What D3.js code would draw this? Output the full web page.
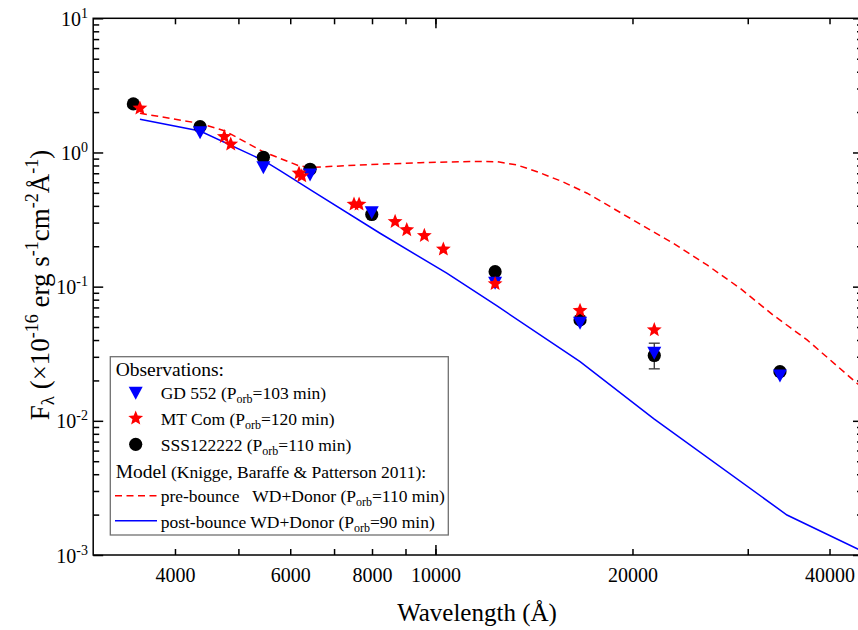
<!DOCTYPE html>
<html>
<head>
<meta charset="utf-8">
<script src="https://cdn.jsdelivr.net/npm/d3@7"></script>
<style>
  body { margin: 0; background: #fff; }
  svg { display: block; font-family: "Liberation Serif", "Times New Roman", serif; }
</style>
</head>
<body>
<svg id="chart" width="858" height="630"></svg>
<script>
// ---- Photometry (wavelength in Å, flux in 1e-16 erg s^-1 cm^-2 Å^-1) ----
const gd552Wave = [4369, 5459, 6433, 7993, 12335, 16631, 21594, 33600];
const gd552Flux = [1.40, 0.770, 0.680, 0.355, 0.106, 0.0534, 0.0319, 0.0216];

const mtcomWave = [3536, 4758, 4867, 6188, 6248, 7509, 7644, 8677, 9040, 9617, 10282, 12335, 16631, 21594];
const mtcomFlux = [2.135, 1.311, 1.151, 0.700, 0.668, 0.411, 0.411, 0.305, 0.265, 0.240, 0.190, 0.105, 0.0663, 0.0476];

const sssWave = [3455, 4369, 5459, 6433, 7993, 12335, 16631, 21594, 33600];
const sssFlux = [2.30, 1.557, 0.921, 0.750, 0.345, 0.1294, 0.0565, 0.0307, 0.02326];
const sssErrLo = [null, null, null, null, null, null, null, 0.0244, null];
const sssErrHi = [null, null, null, null, null, null, null, 0.0379, null];

// ---- Model spectra (Knigge, Baraffe & Patterson 2011) ----
const preWave = [3536, 4369, 4770, 5453, 6167, 6433, 7669, 9472, 11291, 12420, 13323, 14296, 15672, 17051, 19834, 23074, 25995, 29203, 32790, 36967, 43455, 45000];
const preFlux = [1.960, 1.645, 1.446, 1.014, 0.800, 0.773, 0.807, 0.839, 0.857, 0.854, 0.807, 0.719, 0.603, 0.497, 0.3234, 0.2106, 0.1451, 0.0973, 0.0615, 0.0401, 0.0202, 0.01743];

const postWave = [3536, 4369, 5459, 5789, 6508, 8229, 10406, 12420, 16631, 21570, 34440, 45000];
const postFlux = [1.768, 1.446, 0.872, 0.732, 0.510, 0.250, 0.1259, 0.0718, 0.0276, 0.01033, 0.001986, 0.00106];

// ---- Axis ticks ----
const xTicks = [4000, 5000, 6000, 7000, 8000, 9000, 10000, 20000, 30000, 40000];
const xTickLabels = [4000, 6000, 8000, 10000, 20000, 40000];
const xDecades = [10000];
const yDecades = [1e-3, 1e-2, 1e-1, 1, 10];
const yExponents = ["-3", "-2", "-1", "0", "1"];

const box = { left: 93.2, top: 18.3, right: 863, bottom: 555 };

const x = d3.scaleLog().domain([3000, 45000]).range([box.left, box.right]);
const y = d3.scaleLog().domain([1e-3, 10]).range([box.bottom, box.top]);

const svg = d3.select("#chart");

svg.append("defs").append("clipPath").attr("id", "plotArea")
  .append("rect")
  .attr("x", box.left).attr("y", box.top)
  .attr("width", box.right - box.left).attr("height", box.bottom - box.top);

// ---- Axes ----
const yMinor = [];
yDecades.slice(0, -1).forEach(d => { for (let k = 2; k <= 9; k++) yMinor.push(d * k); });

function styleAxis(g) {
  g.select(".domain").remove();
  g.selectAll(".tick line").attr("stroke", "#000").attr("stroke-width", 1.5);
}

// bottom
svg.append("g").attr("transform", `translate(0,${box.bottom})`)
  .call(d3.axisBottom(x).tickValues(xTicks).tickSizeInner(-6).tickSizeOuter(0).tickPadding(13)
    .tickFormat(d => xTickLabels.includes(d) ? String(d) : ""))
  .call(styleAxis)
  .call(g => g.selectAll("text").attr("font-size", 20).attr("fill", "#000")
    .attr("font-family", "Liberation Serif, Times New Roman, serif"));
svg.append("g").attr("transform", `translate(0,${box.bottom})`)
  .call(d3.axisBottom(x).tickValues(xDecades).tickSizeInner(-10).tickSizeOuter(0).tickFormat(""))
  .call(styleAxis);
// top
svg.append("g").attr("transform", `translate(0,${box.top})`)
  .call(d3.axisTop(x).tickValues(xTicks).tickSizeInner(-6).tickSizeOuter(0).tickFormat(""))
  .call(styleAxis);
svg.append("g").attr("transform", `translate(0,${box.top})`)
  .call(d3.axisTop(x).tickValues(xDecades).tickSizeInner(-10).tickSizeOuter(0).tickFormat(""))
  .call(styleAxis);
// left
svg.append("g").attr("transform", `translate(${box.left},0)`)
  .call(d3.axisLeft(y).tickValues(yMinor).tickSizeInner(-6).tickSizeOuter(0).tickFormat(""))
  .call(styleAxis);
svg.append("g").attr("transform", `translate(${box.left},0)`)
  .call(d3.axisLeft(y).tickValues(yDecades).tickSizeInner(-10).tickSizeOuter(0).tickFormat(""))
  .call(styleAxis);
// right
svg.append("g").attr("transform", `translate(${box.right},0)`)
  .call(d3.axisRight(y).tickValues(yMinor).tickSizeInner(-6).tickSizeOuter(0).tickFormat(""))
  .call(styleAxis);
svg.append("g").attr("transform", `translate(${box.right},0)`)
  .call(d3.axisRight(y).tickValues(yDecades).tickSizeInner(-10).tickSizeOuter(0).tickFormat(""))
  .call(styleAxis);

// frame
svg.append("rect")
  .attr("x", box.left).attr("y", box.top)
  .attr("width", box.right - box.left).attr("height", box.bottom - box.top)
  .attr("fill", "none").attr("stroke", "#000").attr("stroke-width", 1.5);

// y tick labels: 10^n
yDecades.forEach((v, i) => {
  const t = svg.append("text")
    .attr("x", 88).attr("y", y(v) + 7.5)
    .attr("text-anchor", "end").attr("font-size", 20).attr("fill", "#000");
  t.append("tspan").text("10");
  t.append("tspan").attr("font-size", 14).attr("dy", -8).text(yExponents[i]);
});

// axis titles
svg.append("text")
  .attr("x", 477).attr("y", 621)
  .attr("text-anchor", "middle").attr("font-size", 25).attr("fill", "#000")
  .text("Wavelength (Å)");

const yTitle = svg.append("text")
  .attr("transform", "translate(49,285) rotate(-90)")
  .attr("text-anchor", "middle").attr("font-size", 27).attr("fill", "#000");
yTitle.append("tspan").text("F");
yTitle.append("tspan").attr("font-size", 19).attr("dy", 5).text("λ");
yTitle.append("tspan").attr("dy", -5).text(" (×10");
yTitle.append("tspan").attr("font-size", 18).attr("dy", -11).text("-16");
yTitle.append("tspan").attr("dy", 11).text(" erg s");
yTitle.append("tspan").attr("font-size", 18).attr("dy", -11).text("-1");
yTitle.append("tspan").attr("dy", 11).text("cm");
yTitle.append("tspan").attr("font-size", 18).attr("dy", -11).text("-2");
yTitle.append("tspan").attr("dy", 11).text("Å");
yTitle.append("tspan").attr("font-size", 18).attr("dy", -11).text("-1");
yTitle.append("tspan").attr("dy", 11).text(")");

// ---- Model lines ----
const line = d3.line().x(d => x(d[0])).y(d => y(d[1]));
const plot = svg.append("g").attr("clip-path", "url(#plotArea)");

plot.append("path")
  .datum(preWave.map((w, i) => [w, preFlux[i]]))
  .attr("d", line).attr("fill", "none")
  .attr("stroke", "#ff0000").attr("stroke-width", 1.5).attr("stroke-dasharray", "7,4.5");

plot.append("path")
  .datum(postWave.map((w, i) => [w, postFlux[i]]))
  .attr("d", line).attr("fill", "none")
  .attr("stroke", "#0000ff").attr("stroke-width", 1.5);

// ---- Marker shapes ----
function starPath(R, r) {
  let p = "";
  for (let k = 0; k < 10; k++) {
    const a = -Math.PI / 2 + k * Math.PI / 5;
    const rad = k % 2 === 0 ? R : r;
    p += (k === 0 ? "M" : "L") + (rad * Math.cos(a)).toFixed(2) + "," + (rad * Math.sin(a)).toFixed(2);
  }
  return p + "Z";
}
const STAR = starPath(7.8, 3.4);
const TRI_DOWN = "M-7,-6.5L7,-6.5L0,6.5Z";

// SSS122222: error bars and circles
sssWave.forEach((w, i) => {
  if (sssErrLo[i] == null) return;
  const cx = x(w), y0 = y(sssErrLo[i]), y1 = y(sssErrHi[i]);
  const eb = plot.append("g").attr("stroke", "#333").attr("stroke-width", 1.3);
  eb.append("line").attr("x1", cx).attr("x2", cx).attr("y1", y0).attr("y2", y1);
  eb.append("line").attr("x1", cx - 5.5).attr("x2", cx + 5.5).attr("y1", y0).attr("y2", y0);
  eb.append("line").attr("x1", cx - 5.5).attr("x2", cx + 5.5).attr("y1", y1).attr("y2", y1);
});
plot.selectAll("circle.sss")
  .data(sssWave.map((w, i) => [w, sssFlux[i]]))
  .join("circle").attr("class", "sss")
  .attr("cx", d => x(d[0])).attr("cy", d => y(d[1])).attr("r", 6.6)
  .attr("fill", "#000");

// GD 552: down triangles
plot.selectAll("path.gd")
  .data(gd552Wave.map((w, i) => [w, gd552Flux[i]]))
  .join("path").attr("class", "gd")
  .attr("d", TRI_DOWN)
  .attr("transform", d => `translate(${x(d[0])},${y(d[1])})`)
  .attr("fill", "#0000ff");

// MT Com: stars
plot.selectAll("path.mt")
  .data(mtcomWave.map((w, i) => [w, mtcomFlux[i]]))
  .join("path").attr("class", "mt")
  .attr("d", STAR)
  .attr("transform", d => `translate(${x(d[0])},${y(d[1])})`)
  .attr("fill", "#ff0000");

// ---- Legend ----
const lg = svg.append("g");
lg.append("rect")
  .attr("x", 110.3).attr("y", 356.7).attr("width", 338).attr("height", 178.3)
  .attr("fill", "#fff").attr("stroke", "#707070").attr("stroke-width", 1.3);

lg.append("text").attr("x", 115.7).attr("y", 376).attr("font-size", 19.5).text("Observations:");

function porbLabel(yPos, name, value, xPos) {
  const t = lg.append("text").attr("x", xPos).attr("y", yPos).attr("font-size", 17.5);
  t.append("tspan").text(name + " (P");
  t.append("tspan").attr("font-size", 12).attr("dy", 4).text("orb");
  t.append("tspan").attr("dy", -4).text("=" + value + " min)");
  return t;
}

lg.append("path").attr("d", TRI_DOWN).attr("transform", "translate(135.7,393.3)").attr("fill", "#0000ff");
porbLabel(399.3, "GD 552", 103, 160.7);
lg.append("path").attr("d", STAR).attr("transform", "translate(135.7,418.3)").attr("fill", "#ff0000");
porbLabel(425, "MT Com", 120, 160.7);
lg.append("circle").attr("cx", 135.7).attr("cy", 444.3).attr("r", 6.6).attr("fill", "#000");
porbLabel(450.7, "SSS122222", 110, 160.7);

const mt = lg.append("text").attr("x", 115.7).attr("y", 478.3);
mt.append("tspan").attr("font-size", 19.5).text("Model");
mt.append("tspan").attr("font-size", 17.5).text(" (Knigge, Baraffe & Patterson 2011):");

lg.append("line").attr("x1", 115).attr("x2", 157).attr("y1", 495.7).attr("y2", 495.7)
  .attr("stroke", "#ff0000").attr("stroke-width", 1.5).attr("stroke-dasharray", "7,4.5");
const pre = lg.append("text").attr("x", 160.7).attr("y", 502.3).attr("font-size", 17.5);
pre.append("tspan").text("pre-bounce");
pre.append("tspan").attr("x", 252.3).text("WD+Donor (P");
pre.append("tspan").attr("font-size", 12).attr("dy", 4).text("orb");
pre.append("tspan").attr("dy", -4).text("=110 min)");

lg.append("line").attr("x1", 115).attr("x2", 157).attr("y1", 520.7).attr("y2", 520.7)
  .attr("stroke", "#0000ff").attr("stroke-width", 1.5);
const post = lg.append("text").attr("x", 160.7).attr("y", 528.3).attr("font-size", 17.5);
post.append("tspan").text("post-bounce WD+Donor (P");
post.append("tspan").attr("font-size", 12).attr("dy", 4).text("orb");
post.append("tspan").attr("dy", -4).text("=90 min)");
</script>
</body>
</html>
